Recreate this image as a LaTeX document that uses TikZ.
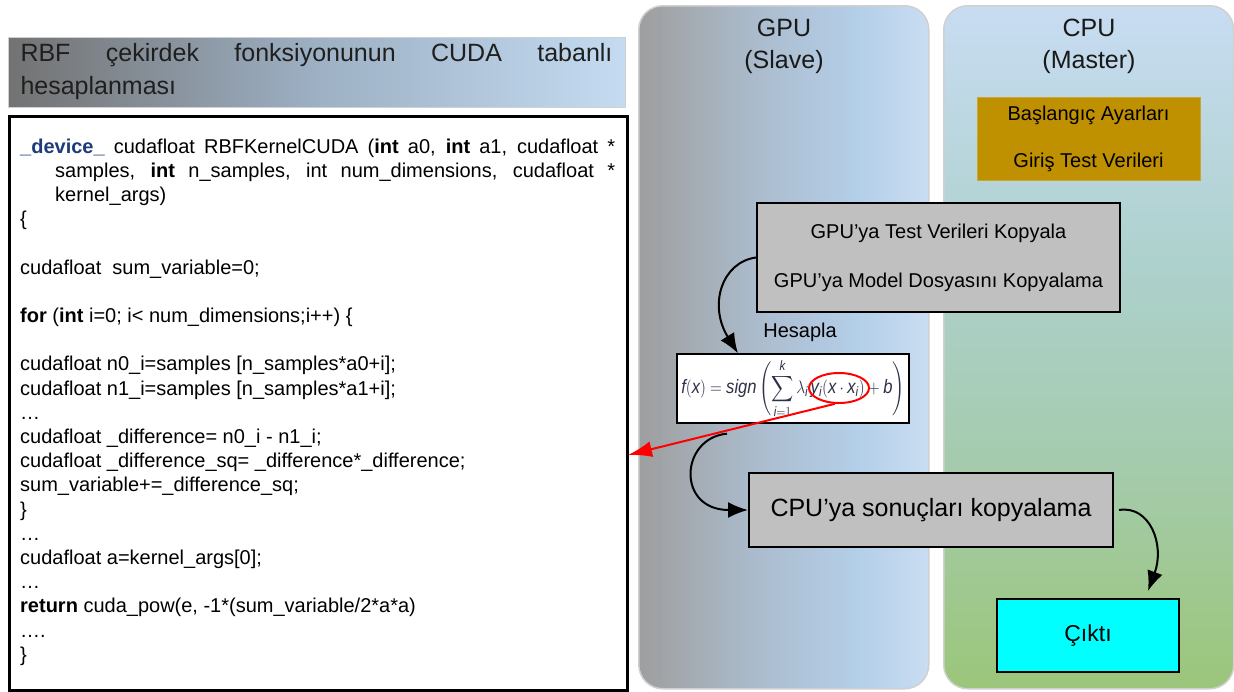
\documentclass[tikz,border=0pt]{standalone}
\usepackage{exscale}
\usepackage{graphicx}
\usepackage{fontspec}
\setmainfont{Liberation Sans}
\usetikzlibrary{arrows.meta,shapes.geometric}
\definecolor{gA}{HTML}{9E9E9E}
\definecolor{gB}{HTML}{ABBBCC}
\definecolor{gC}{HTML}{B4CFE9}
\definecolor{gD}{HTML}{C9DDF2}
\definecolor{cA}{HTML}{9BC67A}
\definecolor{cB}{HTML}{A5CBAE}
\definecolor{cC}{HTML}{ADD1CC}
\definecolor{cD}{HTML}{C8DCF2}
\definecolor{hA}{HTML}{727272}
\definecolor{hB}{HTML}{9DB0C4}
\definecolor{hC}{HTML}{C4DBF1}
\definecolor{panelline}{HTML}{D0D0D0}
\definecolor{goldfill}{HTML}{BF9000}
\definecolor{boxgray}{HTML}{C0C0C0}
\definecolor{devblue}{HTML}{1F3C7A}
\definecolor{fcol}{HTML}{2E3148}
\definecolor{outcyan}{HTML}{00FFFF}
\pgfdeclarehorizontalshading{gpushade}{100bp}{color(0bp)=(gA); color(25bp)=(gA); color(45bp)=(gB); color(63bp)=(gC); color(75bp)=(gD); color(100bp)=(gD)}
\pgfdeclareverticalshading{cpushade}{100bp}{color(0bp)=(cA); color(25bp)=(cA); color(42bp)=(cB); color(56bp)=(cC); color(75bp)=(cD); color(100bp)=(cD)}
\pgfdeclarehorizontalshading{headshade}{100bp}{color(0bp)=(hA); color(25bp)=(hA); color(50bp)=(hB); color(75bp)=(hC); color(100bp)=(hC)}
\begin{document}
\begin{tikzpicture}[x=1pt,y=-1pt,
  panel/.style={draw=panelline, line width=1.5pt, rounded corners=24pt, anchor=north west, minimum width=290pt, minimum height=683pt, inner sep=0pt},
  ptitle/.style={align=center, font=\fontsize{25pt}{32pt}\selectfont, text=black!90},
  cl/.style={anchor=base west, inner sep=0pt, font=\fontsize{20pt}{24pt}\selectfont},
  graybox/.style={draw=black, line width=2pt, fill=boxgray, inner sep=0pt, align=center},
  arr/.style={draw=black, line width=2pt, -{Latex[length=20pt,width=16pt]}},
  redarr/.style={draw=red, line width=2pt, -{Latex[length=24pt,width=16pt]}}
]
\useasboundingbox (0,0) rectangle (1234,691);
\fill[white] (0,0) rectangle (1234,691);

% panels
\node[panel, shading=gpushade] (gpu) at (638,5) {};
\node[panel, shading=cpushade] (cpu) at (943,5) {};
\node[ptitle] (gputitle) at (784,46) {GPU\\(Slave)};
\node[ptitle] (cputitle) at (1089,46) {CPU\\(Master)};

% header
\node[draw=panelline, line width=1pt, shading=headshade, text width=592pt, inner xsep=12.5pt, inner ysep=0pt, minimum height=70pt, align=left, font=\fontsize{25pt}{33pt}\selectfont, text=black!88] (head) at (316.5,72)
  {\hbox to 592pt{RBF\hfill çekirdek\hfill fonksiyonunun\hfill CUDA\hfill tabanlı}\\hesaplanması};

% code box
\node[draw=black, line width=2.5pt, fill=white, anchor=north west, minimum width=618pt, minimum height=574pt, inner sep=0pt] (code) at (8,115) {};
\node[cl] (c1) at (20,153) {\makebox[595pt][s]{\textbf{\color{devblue}\_device\_} cudafloat RBFKernelCUDA (\textbf{int} a0, \textbf{int} a1, cudafloat *}};
\node[cl] (c2) at (55,177.2) {\makebox[560pt][s]{samples, \textbf{int} n\_samples, int num\_dimensions, cudafloat *}};
\node[cl] (c3) at (55,201.4) {kernel\_args)};
\node[cl] (c4) at (20,225.6) {\{};
\node[cl] (c6) at (20,274) {cudafloat\ \ sum\_variable=0;};
\node[cl] (c8) at (20,322.4) {\textbf{for} (\textbf{int} i=0; i< num\_dimensions;i++) \{};
\node[cl] (c10) at (20,370.8) {cudafloat n0\_i=samples [n\_samples*a0+i];};
\node[cl] (c11) at (20,395) {cudafloat n1\_i=samples [n\_samples*a1+i];};
\node[cl] (c12) at (20,419.2) {…};
\node[cl] (c13) at (20,443.4) {cudafloat \_difference= n0\_i - n1\_i;};
\node[cl] (c14) at (20,467.6) {cudafloat \_difference\_sq= \_difference*\_difference;};
\node[cl] (c15) at (20,491.8) {sum\_variable+=\_difference\_sq;};
\node[cl] (c16) at (20,516) {\}};
\node[cl] (c17) at (20,540.2) {…};
\node[cl] (c18) at (20,564.4) {cudafloat a=kernel\_args[0];};
\node[cl] (c19) at (20,588.6) {…};
\node[cl] (c20) at (20,612.8) {\textbf{return} cuda\_pow(e, -1*(sum\_variable/2*a*a)};
\node[cl] (c21) at (20,637) {….};
\node[cl] (c22) at (20,661.2) {\}};

% CPU side boxes
\node[fill=goldfill, draw=goldfill!80!white, line width=0.8pt, minimum width=223pt, minimum height=83pt, inner sep=0pt, align=center, font=\fontsize{20pt}{47pt}\selectfont] (init) at (1088.5,138.5) {Başlangıç Ayarları\\Giriş Test Verileri};
\node[graybox, minimum width=363pt, minimum height=109pt, font=\fontsize{20pt}{49pt}\selectfont] (copyin) at (938.5,257.5) {GPU’ya Test Verileri Kopyala\\GPU’ya Model Dosyasını Kopyalama};
\node[font=\fontsize{20pt}{24pt}\selectfont, inner sep=0pt] (hesapla) at (800,332) {Hesapla};
\node[draw=black, line width=1.3pt, fill=white, minimum width=232pt, minimum height=69pt, inner sep=0pt, font=\fontsize{15.5pt}{18pt}\selectfont] (formula) at (793,388.5)
  {\color{fcol}\scalebox{1.07}[1.25]{$\displaystyle \mathit{f}(\mathit{x})=\mathit{sign}\left(\sum_{\mathit{i}=1}^{\mathit{k}}\lambda_{\mathit{i}}\,\mathit{y}_{\mathit{i}}(\mathit{x}\cdot\mathit{x}_{\mathit{i}})+\mathit{b}\right)$}};
\node[ellipse, draw=red, line width=2pt, minimum width=60pt, minimum height=30pt, inner sep=0pt] (ell) at (839,388) {};
\node[graybox, minimum width=364pt, minimum height=74pt, font=\fontsize{25pt}{30pt}\selectfont] (cpubox) at (931,510) {CPU’ya sonuçları kopyalama};
\node[draw=black, line width=2pt, fill=outcyan, minimum width=182pt, minimum height=73pt, inner sep=0pt, font=\fontsize{23pt}{28pt}\selectfont] (out) at (1088,635.5) {Çıktı};

% connectors
\coordinate (redtip) at (628,455);
\draw[redarr] (ell.255) -- (redtip);
\draw[arr] (copyin.west) .. controls (722,262) and (708,305) .. ([xshift=-55pt]formula.north);
\draw[arr] ([xshift=-66pt,yshift=-10pt]formula.south) .. controls (680,438) and (676,510) .. (cpubox.west);
\draw[arr] ([xshift=5pt]cpubox.east) .. controls (1150,505) and (1165,545) .. ([xshift=60pt,yshift=7pt]out.north);
\end{tikzpicture}
\end{document}
